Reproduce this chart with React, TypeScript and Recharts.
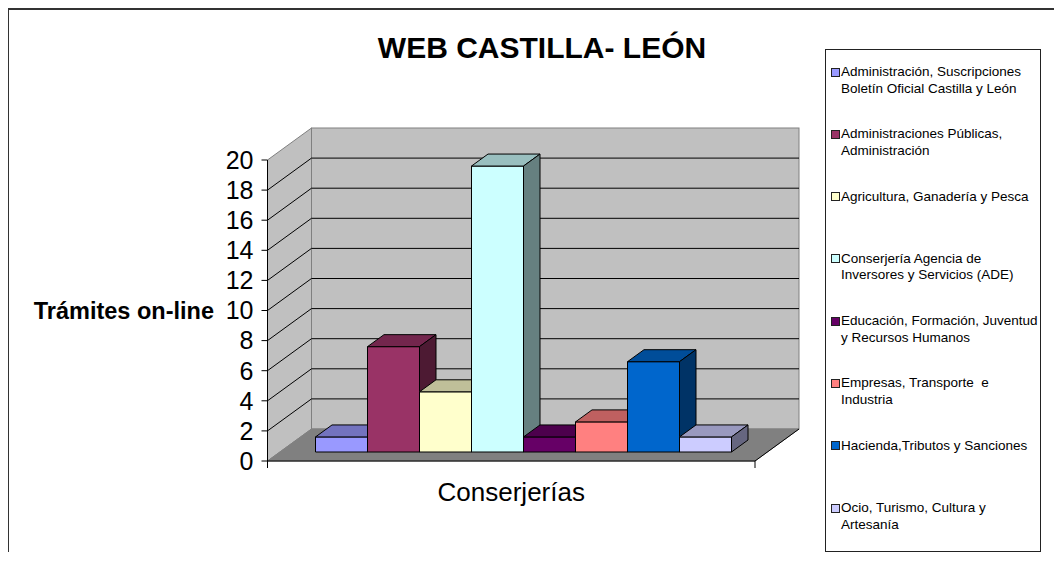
import { Bar, BarChart, CartesianGrid, Legend, XAxis, YAxis } from 'recharts'

const FONT = '"Liberation Sans", Arial, sans-serif'

const categories = ['Conserjerías']

const seriesNames = [
  'Administración, Suscripciones\nBoletín Oficial Castilla y León',
  'Administraciones Públicas,\nAdministración',
  'Agricultura, Ganadería y Pesca',
  'Conserjería Agencia de\nInversores y Servicios (ADE)',
  'Educación, Formación, Juventud\ny Recursos Humanos',
  'Empresas, Transporte  e\nIndustria',
  'Hacienda,Tributos y Sanciones',
  'Ocio, Turismo, Cultura y\nArtesanía',
]

const seriesValues = [1, 7, 4, 19, 1, 2, 6, 1]

const seriesColors = [
  '#9999FF',
  '#993366',
  '#FFFFCC',
  '#CCFFFF',
  '#660066',
  '#FF8080',
  '#0066CC',
  '#CCCCFF',
]

const yTicks = [0, 2, 4, 6, 8, 10, 12, 14, 16, 18, 20]

const data = categories.map((name) => {
  const row: Record<string, string | number> = { name }
  seriesValues.forEach((v, i) => {
    row[`s${i}`] = v
  })
  return row
})

// oblique 3d projection: wall depth and bar depth
const WALL_DX = 44
const WALL_DY = 32
const BAR_OX = 12.5
const BAR_OY = -9
const BAR_DX = 16.5
const BAR_DY = 12

function shade(hex: string, k: number) {
  const n = parseInt(hex.slice(1), 16)
  const r = Math.round(((n >> 16) & 255) * k)
  const g = Math.round(((n >> 8) & 255) * k)
  const b = Math.round((n & 255) * k)
  return `rgb(${r},${g},${b})`
}

function Bar3D(props: any) {
  const { x, y, width, height, fill } = props
  if (x == null || width == null) return null
  const fx = x + BAR_OX
  const fy = y + BAR_OY
  const top = `${fx},${fy} ${fx + BAR_DX},${fy - BAR_DY} ${fx + width + BAR_DX},${fy - BAR_DY} ${fx + width},${fy}`
  const side = `${fx + width},${fy} ${fx + width + BAR_DX},${fy - BAR_DY} ${fx + width + BAR_DX},${fy + height - BAR_DY} ${fx + width},${fy + height}`
  return (
    <g stroke="#000" strokeWidth={1} strokeLinejoin="round">
      <rect x={fx} y={fy} width={width} height={height} fill={fill} />
      <polygon points={top} fill={shade(fill, 0.75)} />
      <polygon points={side} fill={shade(fill, 0.5)} />
    </g>
  )
}

function GridLine(props: any) {
  const { x, y, width, height, y1, index } = props
  const bottom = y + height
  const isTop = Math.abs(y1 - y) < 0.5
  const isBottom = Math.abs(y1 - bottom) < 0.5
  return (
    <g key={props.key ?? index}>
      {index === 0 && (
        <g>
          <polygon
            points={`${x},${y} ${x + WALL_DX},${y - WALL_DY} ${x + WALL_DX},${bottom - WALL_DY} ${x},${bottom}`}
            fill="#C0C0C0"
            stroke="#808080"
          />
          <rect
            x={x + WALL_DX}
            y={y - WALL_DY}
            width={width}
            height={height}
            fill="#C0C0C0"
            stroke="#808080"
          />
          <polygon
            points={`${x},${bottom} ${x + width},${bottom} ${x + width + WALL_DX},${bottom - WALL_DY} ${x + WALL_DX},${bottom - WALL_DY}`}
            fill="#808080"
            stroke="#808080"
          />
          <line
            x1={x + width}
            y1={bottom}
            x2={x + width + WALL_DX}
            y2={bottom - WALL_DY}
            stroke="#000"
          />
          <line x1={x} y1={bottom} x2={x} y2={bottom + 7} stroke="#000" />
          <line x1={x + width} y1={bottom} x2={x + width} y2={bottom + 7} stroke="#000" />
        </g>
      )}
      {!isTop && !isBottom && (
        <g stroke="#000" strokeWidth={1}>
          <line x1={x} y1={y1} x2={x + WALL_DX} y2={y1 - WALL_DY} />
          <line x1={x + WALL_DX} y1={y1 - WALL_DY} x2={x + WALL_DX + width} y2={y1 - WALL_DY} />
        </g>
      )}
    </g>
  )
}

function LegendBox({ payload }: any) {
  const items = [...(payload || [])].sort(
    (a: any, b: any) => seriesNames.indexOf(a.value) - seriesNames.indexOf(b.value),
  )
  return (
    <div
      style={{
        width: 216,
        height: 503,
        boxSizing: 'border-box',
        border: '1px solid #222',
        background: '#fff',
        paddingTop: 14,
        fontFamily: FONT,
        fontSize: 13.5,
        color: '#000',
      }}
    >
      {items.map((entry: any) => (
        <div key={entry.value} style={{ height: 62.3, position: 'relative', paddingLeft: 15 }}>
          <span
            style={{
              position: 'absolute',
              left: 5,
              top: 3.5,
              width: 7,
              height: 7,
              background: entry.color,
              border: '1px solid #222',
            }}
          />
          <div style={{ whiteSpace: 'pre', lineHeight: '16.5px' }}>{entry.value}</div>
        </div>
      ))}
    </div>
  )
}

export default function App() {
  return (
    <div style={{ position: 'relative', width: 1054, height: 566, fontFamily: FONT }}>
      <div
        style={{
          position: 'absolute',
          left: 0,
          top: 0,
          width: 1054,
          height: 544,
          boxSizing: 'border-box',
          borderTop: '2px solid #333',
          borderLeft: '1px solid #333',
          pointerEvents: 'none',
        }}
      />
      <div
        style={{
          position: 'absolute',
          left: 534,
          top: 40,
          transform: 'translate(-50%, -50%)',
          whiteSpace: 'nowrap',
          fontSize: 30,
          fontWeight: 'bold',
          lineHeight: 1,
          color: '#000',
        }}
      >
        WEB CASTILLA- LEÓN
      </div>
      <BarChart
        width={1054}
        height={566}
        data={data}
        margin={{ top: 152, right: 307, left: 211, bottom: 73 }}
        barCategoryGap={35.5}
        barGap={0}
      >
        <CartesianGrid vertical={false} horizontal={GridLine} />
        <XAxis
          dataKey="name"
          axisLine={{ stroke: '#000' }}
          tickLine={false}
          tickSize={6}
          tickMargin={16}
          height={40}
          tick={{ fill: '#000', fontSize: 26, fontFamily: FONT }}
        />
        <YAxis
          domain={[0, 20]}
          ticks={yTicks}
          interval={0}
          width={48.5}
          tickSize={6}
          tickMargin={8}
          axisLine={{ stroke: '#000' }}
          tickLine={{ stroke: '#000' }}
          tick={{ fill: '#000', fontSize: 25, fontFamily: FONT }}
          label={{
            value: 'Trámites on-line',
            position: 'left',
            offset: 5,
            style: { fontWeight: 'bold', fontSize: 23.5, fill: '#000', fontFamily: FONT },
          }}
        />
        <Legend
          layout="vertical"
          align="center"
          verticalAlign="middle"
          content={LegendBox}
          wrapperStyle={{ left: 817, top: 41, width: 216, height: 503 }}
        />
        {seriesNames.map((name, i) => (
          <Bar
            key={name}
            dataKey={`s${i}`}
            name={name}
            fill={seriesColors[i]}
            shape={Bar3D}
            isAnimationActive={false}
          />
        ))}
      </BarChart>
    </div>
  )
}
